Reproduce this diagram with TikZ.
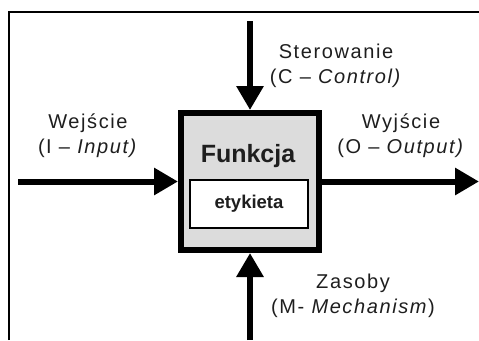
\documentclass[tikz,border=0pt]{standalone}
\usepackage{fontspec}
\setmainfont{Liberation Sans}
\newfontfamily\labelfont[LetterSpace=8]{Liberation Sans}
\usetikzlibrary{arrows.meta}
\definecolor{inktext}{HTML}{1E1E1E}
\definecolor{boxgray}{HTML}{DCDCDC}
\begin{document}
\begin{tikzpicture}[x=1pt,y=-1pt,
  flow/.style={line width=6pt,-{Triangle[length=24pt,width=26pt]}},
  caption/.style={align=center,text=inktext,font=\labelfont\fontsize{20}{25}\selectfont,inner sep=0pt}]
  \useasboundingbox (0,0) rectangle (479,340);
  % open frame on the left and top
  \draw[line width=2pt] (9,340) -- (9,12) -- (479,12);
  % function block
  \node (f) [draw, line width=6pt, fill=boxgray, minimum width=138pt, minimum height=137pt] at (250,181.5) {};
  \node (title) [font=\bfseries\fontsize{25}{27}\selectfont, text=inktext] at (248,156) {Funkcja};
  \node (tag) [draw, line width=2pt, fill=white, minimum width=118pt, minimum height=48pt,
    font=\bfseries\fontsize{18.5}{20}\selectfont, text=inktext] at (249,204) {etykieta};
  % connector ends
  \coordinate (cin) at (18,181.5);
  \coordinate (cout) at (479,181.5);
  \coordinate (ctop) at (250,21);
  \coordinate (cbot) at (250,340);
  \draw[flow] (cin) -- (f.west);
  \draw[flow] (f.east) -- (cout);
  \draw[flow] (ctop) -- (f.north);
  \draw[flow] (cbot) -- (f.south);
  % captions
  \node (lctl) [caption] at (336,66) {Sterowanie\\(C – \textit{Control)}};
  \node (lin) [caption] at (88,136) {Wejście\\(I – \textit{Input)}};
  \node (lout) [caption] at (401,136) {Wyjście\\(O – \textit{Output)}};
  \node (lmech) [caption] at (353,296) {Zasoby\\(M- \textit{Mechanism})};
\end{tikzpicture}
\end{document}
